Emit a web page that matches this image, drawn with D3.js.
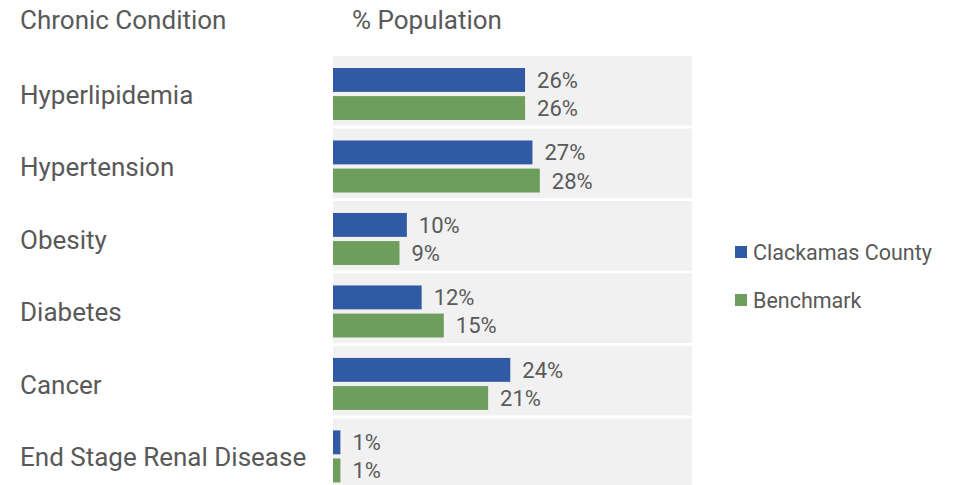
<!DOCTYPE html>
<html>
<head>
<meta charset="utf-8">
<script src="https://cdn.jsdelivr.net/npm/d3@7"></script>
<style>
  html, body { margin: 0; padding: 0; background: #ffffff; }
  svg text { font-family: "Roboto", "Liberation Sans", sans-serif; fill: #595959; }
</style>
</head>
<body>
<svg id="chart" width="953" height="485"></svg>
<script>
// Chronic condition prevalence, % of population
const categories = ["Hyperlipidemia", "Hypertension", "Obesity", "Diabetes", "Cancer", "End Stage Renal Disease"];
const seriesNames = ["Clackamas County", "Benchmark"];
const countyValues = [26, 27, 10, 12, 24, 1];
const benchmarkValues = [26, 28, 9, 15, 21, 1];
const seriesColors = ["#305aa4", "#6e9e5c"];
const headers = ["Chronic Condition", "% Population"];

const svg = d3.select("#chart");

const x = d3.scaleLinear().domain([0, 48.6]).range([333, 692]);
const y = d3.scaleBand().domain(categories).range([56, 488]).paddingInner(0.04);
const ySub = d3.scaleBand().domain(seriesNames).range([12, 64]).paddingInner(0.15);

const rows = categories.map((c, i) => ({
  category: c,
  values: [countyValues[i], benchmarkValues[i]]
}));

// column headers
svg.append("text").attr("x", 20).attr("y", 29).attr("font-size", 26).text(headers[0]);
svg.append("text").attr("x", 352).attr("y", 29).attr("font-size", 26).text(headers[1]);

const row = svg.selectAll("g.row").data(rows).join("g")
  .attr("class", "row")
  .attr("transform", d => `translate(0,${y(d.category)})`);

// light panel behind each category
row.append("rect")
  .attr("x", x(0))
  .attr("y", 0)
  .attr("width", x.range()[1] - x(0))
  .attr("height", y.bandwidth())
  .attr("fill", "#f1f1f1");

// category label
row.append("text")
  .attr("x", 20)
  .attr("y", y.bandwidth() / 2 + 13)
  .attr("font-size", 26)
  .text(d => d.category);

const bars = row.selectAll("g.bar")
  .data(d => d.values.map((v, j) => ({ series: seriesNames[j], value: v, color: seriesColors[j] })))
  .join("g").attr("class", "bar");

bars.append("rect")
  .attr("x", x(0))
  .attr("y", d => ySub(d.series))
  .attr("width", d => x(d.value) - x(0))
  .attr("height", ySub.bandwidth())
  .attr("fill", d => d.color);

bars.append("text")
  .attr("x", d => x(d.value) + 12)
  .attr("y", d => ySub(d.series) + ySub.bandwidth() / 2 + 8)
  .attr("font-size", 22)
  .text(d => d.value + "%");

// legend
const legend = svg.selectAll("g.legend").data(seriesNames).join("g")
  .attr("class", "legend")
  .attr("transform", (d, i) => `translate(735,${246 + i * 48})`);
legend.append("rect").attr("width", 12).attr("height", 12).attr("fill", (d, i) => seriesColors[i]);
legend.append("text").attr("x", 18).attr("y", 14).attr("font-size", 21.5).text(d => d);
</script>
</body>
</html>
